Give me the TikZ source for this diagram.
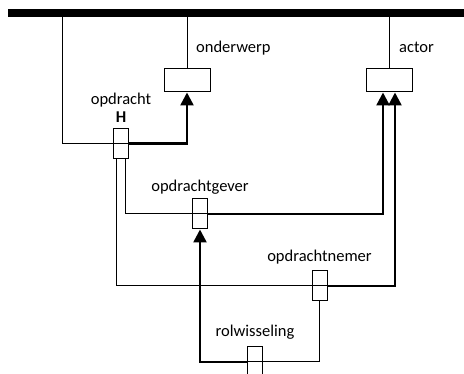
\documentclass[tikz,border=0pt]{standalone}
\usepackage{fontspec}
\setmainfont{Carlito}
\usetikzlibrary{arrows.meta}
\begin{document}
\begin{tikzpicture}[x=1pt,y=-1pt,>={Triangle[length=13pt,width=13pt]},
  dun/.style={line width=1pt},
  dik/.style={line width=2.4pt},
  blok/.style={draw,line width=1pt,minimum width=46pt,minimum height=23pt,inner sep=0pt},
  rol/.style={draw,line width=1pt,minimum width=15pt,minimum height=30pt,inner sep=0pt},
  lbl/.style={font=\fontsize{16.5}{18}\selectfont,inner sep=0pt}]
\useasboundingbox (0,0) rectangle (464,374);
\clip (0,0) rectangle (464,374);
\coordinate (bl) at (8,13.3);
\coordinate (br) at (466,13.3);
\coordinate (hoek) at (62.7,13.3);
\path
(187,80.5)  node[blok] (onderwerp) {}
            +(9,-28) node[lbl,anchor=base west] {onderwerp}
(389,80.5)  node[blok] (actor) {}
            +(10,-28) node[lbl,anchor=base west] {actor}
(121,143.5) node[rol] (opdracht) {}
            +(0,-38.5) node[lbl,anchor=base] {opdracht}
            +(0,-21) node[lbl,anchor=base] {\textbf{H}}
(200,214)   node[rol] (opdrachtgever) {}
            +(0,-22.3) node[lbl,anchor=base] {opdrachtgever}
(319.5,286) node[rol] (opdrachtnemer) {}
            +(0,-24) node[lbl,anchor=base] {opdrachtnemer}
(255,362)   node[rol] (rolwisseling) {}
            +(0,-25.3) node[lbl,anchor=base] {rolwisseling};
\draw[line width=8pt] (bl)--(br);
\draw[dun] (onderwerp.north)--(onderwerp.north |- bl);
\draw[dun] (actor.north)--(actor.north |- bl);
\draw[dun] (hoek) |- (opdracht.east);
\draw[dik,->] (opdracht.east) -| (onderwerp.south);
\draw[dun] ([xshift=4.5pt]opdracht.south) |- (opdrachtgever.east);
\draw[dun] ([xshift=-4.5pt]opdracht.south) |- (opdrachtnemer.east);
\draw[dik,->] (opdrachtgever.east) -| ([xshift=-6pt]actor.south);
\draw[dik,->] (opdrachtnemer.east) -| ([xshift=6pt]actor.south);
\draw[dun] (opdrachtnemer.south) |- (rolwisseling.west);
\draw[dik,->] (rolwisseling.west) -| (opdrachtgever.south);
\end{tikzpicture}
\end{document}
